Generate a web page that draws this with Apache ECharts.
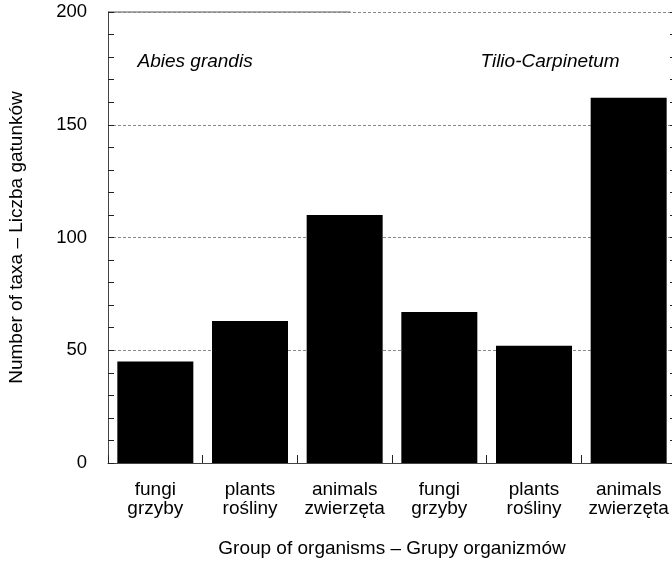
<!DOCTYPE html>
<html><head><meta charset="utf-8">
<script src="https://cdn.jsdelivr.net/npm/echarts@6/dist/echarts.min.js"></script>
<style>html,body{margin:0;padding:0;background:#fff}#c{width:672px;height:562px}</style>
</head><body><div id="c"></div>
<script>
const categories = ['fungi\ngrzyby','plants\nrośliny','animals\nzwierzęta','fungi\ngrzyby','plants\nrośliny','animals\nzwierzęta'];
const values = [45, 63, 110, 67, 52, 162];
const yTicks = [0, 50, 100, 150, 200];
const groupLabels = ['Abies grandis', 'Tilio-Carpinetum'];

const FONT = 'Liberation Sans, Arial, sans-serif';
const chart = echarts.init(document.getElementById('c'), null, {renderer:'canvas'});
const yCommon = {
  type:'value', min: yTicks[0], max: yTicks[yTicks.length-1], interval: 50,
  axisLine:{show:true, lineStyle:{color:'#444', width:1}},
  axisTick:{show:true, inside:true, length:6, lineStyle:{color:'#222'}},
  minorTick:{show:true, splitNumber:5, length:6, lineStyle:{color:'#222'}},
};
chart.setOption({
  animation:false,
  grid:{left:108, width:568, top:12, bottom:99, containLabel:false, outerBoundsMode:'none'},
  xAxis:{
    type:'category', data:categories,
    axisLine:{lineStyle:{color:'#444'}},
    axisTick:{show:true, inside:true, length:8, alignWithLabel:false, lineStyle:{color:'#222'}},
    axisLabel:{color:'#000', fontFamily:FONT, fontSize:19, lineHeight:19, margin:17, interval:0},
    name:'Group of organisms – Grupy organizmów', nameLocation:'middle', nameGap:76,
    nameTextStyle:{color:'#000', fontFamily:FONT, fontSize:19}
  },
  yAxis:[
    Object.assign({}, yCommon, {
      position:'left',
      axisLabel:{color:'#000', fontFamily:FONT, fontSize:18.5, margin:21},
      splitLine:{show:true, lineStyle:{color:'#888', type:[3,2], width:1}},
      name:'Number of taxa – Liczba gatunków', nameLocation:'middle', nameGap:82,
      nameTextStyle:{color:'#000', fontFamily:FONT, fontSize:19}
    }),
    Object.assign({}, yCommon, {
      position:'right', axisLabel:{show:false}, splitLine:{show:false}
    })
  ],
  series:[{
    type:'bar', data:values, barWidth:76, itemStyle:{color:'#000'}, yAxisIndex:0
  }],
  graphic:[]
});
// annotation texts placed above the groups (interpolated along the category axis)
const c0 = chart.convertToPixel({xAxisIndex:0}, 0);
const c1 = chart.convertToPixel({xAxisIndex:0}, 1);
const step = c1 - c0;
const yAnn = chart.convertToPixel({yAxisIndex:0}, 178);
const yTop = chart.convertToPixel({yAxisIndex:0}, 200);
const xLeft = c0 - step/2;
chart.setOption({graphic:[
  {type:'text', x:c0 + 0.42*step, y:yAnn, style:{text:groupLabels[0], font:'italic 19px '+FONT, fill:'#000', align:'center', verticalAlign:'middle'}},
  {type:'text', x:c0 + 4.17*step, y:yAnn, style:{text:groupLabels[1], font:'italic 19px '+FONT, fill:'#000', align:'center', verticalAlign:'middle'}},
  {type:'line', shape:{x1:xLeft, y1:yTop, x2:xLeft + 2.56*step, y2:yTop}, style:{stroke:'#555', lineWidth:1}}
]});
</script></body></html>
